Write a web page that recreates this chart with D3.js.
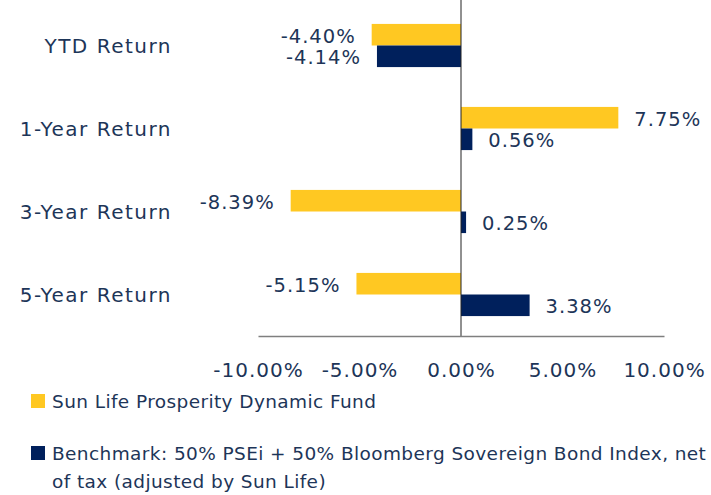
<!DOCTYPE html>
<html>
<head>
<meta charset="utf-8">
<script src="https://cdn.jsdelivr.net/npm/d3@7"></script>
<style>
  body { margin: 0; background: #fff; }
  text { font-family: "DejaVu Sans", sans-serif; fill: #1d3558; }
</style>
</head>
<body>
<div id="chart"></div>
<script>
// data
const categories = ["YTD Return", "1-Year Return", "3-Year Return", "5-Year Return"];
const fundValues = [-4.40, 7.75, -8.39, -5.15];
const benchValues = [-4.14, 0.56, 0.25, 3.38];
const seriesNames = [
  "Sun Life Prosperity Dynamic Fund",
  "Benchmark: 50% PSEi + 50% Bloomberg Sovereign Bond Index, net of tax (adjusted by Sun Life)"
];
const xTicks = [-10, -5, 0, 5, 10];
const colors = ["#ffc822", "#00205c"];

const width = 711, height = 495;
const pct = d => d3.format(".2f")(d).replace("−", "-") + "%";

const svg = d3.select("#chart")
  .append("svg")
  .attr("width", width)
  .attr("height", height);

// scales
const x = d3.scaleLinear()
  .domain([-10, 10])
  .range([258, 664]);

const y = d3.scaleBand()
  .domain(categories)
  .range([4, 336])
  .paddingInner(0.48)
  .paddingOuter(0.24);

const ySub = d3.scaleBand()
  .domain([0, 1])
  .range([0, y.bandwidth()]);

const rows = categories.map((c, i) => ({cat: c, vals: [fundValues[i], benchValues[i]]}));

// bars
const groups = svg.selectAll("g.row")
  .data(rows)
  .join("g")
    .attr("class", "row")
    .attr("transform", d => `translate(0, ${y(d.cat)})`);

groups.selectAll("rect")
  .data(d => d.vals.map((v, k) => ({v, k})))
  .join("rect")
    .attr("x", d => x(Math.min(0, d.v)))
    .attr("y", d => ySub(d.k))
    .attr("width", d => Math.abs(x(d.v) - x(0)))
    .attr("height", ySub.bandwidth())
    .attr("fill", d => colors[d.k]);

// value labels
groups.selectAll("text.val")
  .data(d => d.vals.map((v, k) => ({v, k})))
  .join("text")
    .attr("class", "val")
    .attr("x", d => d.v < 0 ? x(d.v) - 16 : x(d.v) + 16)
    .attr("y", d => ySub(d.k) + ySub.bandwidth() / 2 + 1)
    .attr("dy", "0.36em")
    .attr("text-anchor", d => d.v < 0 ? "end" : "start")
    .attr("font-size", 19.5)
    .attr("letter-spacing", 1)
    .text(d => pct(d.v));

// category labels
svg.selectAll("text.cat")
  .data(categories)
  .join("text")
    .attr("class", "cat")
    .attr("x", 172)
    .attr("y", d => y(d) + y.bandwidth() / 2)
    .attr("dy", "0.36em")
    .attr("text-anchor", "end")
    .attr("font-size", 20)
    .attr("letter-spacing", 1.5)
    .text(d => d);

// zero line
svg.append("line")
  .attr("x1", x(0)).attr("x2", x(0))
  .attr("y1", 0).attr("y2", y.range()[1])
  .attr("stroke", "#222")
  .attr("stroke-width", 1);

// x axis
const xAxis = svg.append("g")
  .attr("transform", `translate(0, ${y.range()[1]})`)
  .call(d3.axisBottom(x).tickValues(xTicks).tickSize(0).tickPadding(27)
    .tickFormat(pct));
xAxis.select(".domain").attr("stroke", "#7f7f7f").attr("stroke-width", 1.5);
xAxis.selectAll("text")
  .attr("font-size", 20)
  .attr("letter-spacing", 1)
  .attr("font-family", "DejaVu Sans, sans-serif")
  .attr("fill", "#1d3558");

// legend
const legendY = [401, 453];
seriesNames.forEach((name, i) => {
  svg.append("rect")
    .attr("x", 31).attr("y", legendY[i] - 7)
    .attr("width", 14).attr("height", 14)
    .attr("fill", colors[i]);
  const t = svg.append("text")
    .attr("x", 52).attr("y", legendY[i])
    .attr("dy", "0.36em")
    .attr("font-size", 18.5)
    .attr("letter-spacing", 0.4);
  // simple word wrap
  const words = name.split(" ");
  let line = [];
  let tspan = t.append("tspan").attr("x", 52);
  words.forEach(w => {
    line.push(w);
    tspan.text(line.join(" "));
    if (tspan.node().getComputedTextLength() > 662 && line.length > 1) {
      line.pop();
      tspan.text(line.join(" "));
      line = [w];
      tspan = t.append("tspan").attr("x", 52).attr("dy", "1.55em").text(w);
    }
  });
});
</script>
</body>
</html>
